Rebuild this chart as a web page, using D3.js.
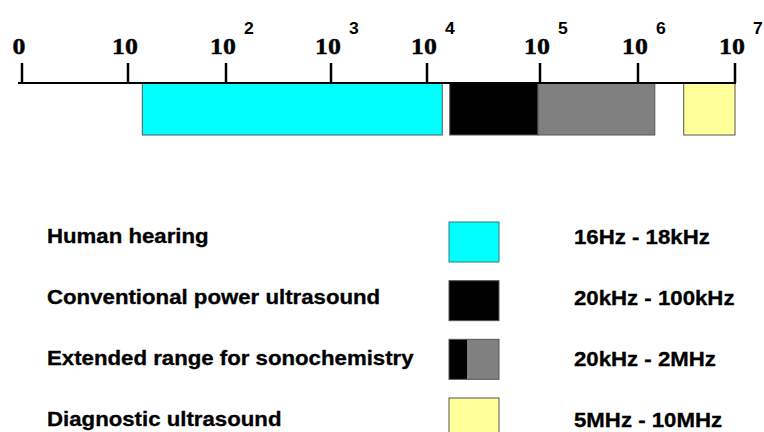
<!DOCTYPE html>
<html>
<head>
<meta charset="utf-8">
<script src="https://cdn.jsdelivr.net/npm/d3@7"></script>
<style>
  html, body { margin: 0; padding: 0; background: #fff; }
  svg { display: block; }
</style>
</head>
<body>
<svg id="chart" width="764" height="432"></svg>
<script>
// tick values (Hz) and their labels: base + exponent
const tickValues = [1, 10, 1e2, 1e3, 1e4, 1e5, 1e6, 1e7];
const tickBase = ["0", "10", "10", "10", "10", "10", "10", "10"];
const tickExp = ["", "", "2", "3", "4", "5", "6", "7"];

// bars on the frequency axis, as drawn (Hz)
const barStart = [14, 15900, 96000, 2.96e6];
const barEnd = [13650, 96000, 1.49e6, 1e7];
const barColors = ["#00ffff", "#000000", "#808080", "#ffff99"];

// legend
const bandNames = ["Human hearing", "Conventional power ultrasound", "Extended range for sonochemistry", "Diagnostic ultrasound"];
const bandRanges = ["16Hz - 18kHz", "20kHz - 100kHz", "20kHz - 2MHz", "5MHz - 10MHz"];
const bandSwatch = [["#00ffff"], ["#000000"], ["#000000", "#808080"], ["#ffff99"]];
const swatchSplit = [[1], [1], [0.37, 1], [1]];

const svg = d3.select("#chart");

// hand drawn axis: decades are not evenly spaced, so piecewise log scale
const x = d3.scaleLog()
    .domain(tickValues)
    .range([22, 128, 226, 331, 427, 540, 638, 735]);

const axisY = 83;

// bars
svg.append("g")
    .selectAll("rect")
    .data(barStart)
    .enter().append("rect")
    .attr("x", (d, i) => x(d))
    .attr("y", axisY)
    .attr("width", (d, i) => x(barEnd[i]) - x(d))
    .attr("height", 52)
    .attr("fill", (d, i) => barColors[i])
    .attr("stroke", "#555")
    .attr("stroke-width", 1);

// axis line
svg.append("line")
    .attr("x1", x(tickValues[0]) - 4)
    .attr("x2", x(tickValues[tickValues.length - 1]) + 1)
    .attr("y1", axisY)
    .attr("y2", axisY)
    .attr("stroke", "#000")
    .attr("stroke-width", 2);

// ticks
svg.append("g")
    .selectAll("line")
    .data(tickValues)
    .enter().append("line")
    .attr("x1", d => x(d))
    .attr("x2", d => x(d))
    .attr("y1", axisY)
    .attr("y2", axisY - 20)
    .attr("stroke", "#000")
    .attr("stroke-width", 2.5);

// tick labels (the original is a bit stretched sideways)
const lab = svg.append("g")
    .selectAll("g")
    .data(tickValues)
    .enter().append("g")
    .attr("transform", d => `translate(${x(d) - 3},54) scale(1.1,1)`);

lab.append("text")
    .attr("text-anchor", "middle")
    .attr("font-family", "'Liberation Serif', 'Times New Roman', serif")
    .attr("font-weight", "bold")
    .attr("font-size", 23.5)
    .attr("fill", "#000")
    .attr("stroke", "#000")
    .attr("stroke-width", 0.4)
    .text((d, i) => tickBase[i]);

lab.append("text")
    .attr("x", 19)
    .attr("y", -20)
    .attr("font-family", "'Liberation Sans', Arial, sans-serif")
    .attr("font-weight", "bold")
    .attr("font-size", 16)
    .attr("fill", "#000")
    .text((d, i) => tickExp[i]);

// legend
const textY = d3.scaleLinear().domain([0, 3]).range([243, 426]);
const swY = d3.scaleLinear().domain([0, 3]).range([222, 398]);
const swX = d3.scaleLinear().domain([0, 1]).range([449, 499]);

const rows = svg.append("g")
    .selectAll("g")
    .data(bandNames)
    .enter().append("g");

rows.append("text")
    .attr("transform", (d, i) => `translate(47,${textY(i)}) scale(1.14,1)`)
    .attr("font-family", "'Liberation Sans', Arial, sans-serif")
    .attr("font-weight", "bold")
    .attr("font-size", 19.5)
    .attr("fill", "#000")
    .attr("stroke", "#000")
    .attr("stroke-width", 0.3)
    .text(d => d);

rows.append("text")
    .attr("transform", (d, i) => `translate(574,${textY(i) + 1}) scale(1.14,1)`)
    .attr("font-family", "'Liberation Sans', Arial, sans-serif")
    .attr("font-weight", "bold")
    .attr("font-size", 19.5)
    .attr("fill", "#000")
    .attr("stroke", "#000")
    .attr("stroke-width", 0.3)
    .text((d, i) => bandRanges[i]);

rows.each(function (d, i) {
    const g = d3.select(this);
    let from = 0;
    bandSwatch[i].forEach((c, j) => {
        const to = swatchSplit[i][j];
        g.append("rect")
            .attr("x", swX(from))
            .attr("y", swY(i))
            .attr("width", swX(to) - swX(from))
            .attr("height", 40)
            .attr("fill", c);
        from = to;
    });
    g.append("rect")
        .attr("x", swX(0))
        .attr("y", swY(i))
        .attr("width", swX(1) - swX(0))
        .attr("height", 40)
        .attr("fill", "none")
        .attr("stroke", i === 0 ? "#2f7f80" : "#555")
        .attr("stroke-width", 1);
});
</script>
</body>
</html>
